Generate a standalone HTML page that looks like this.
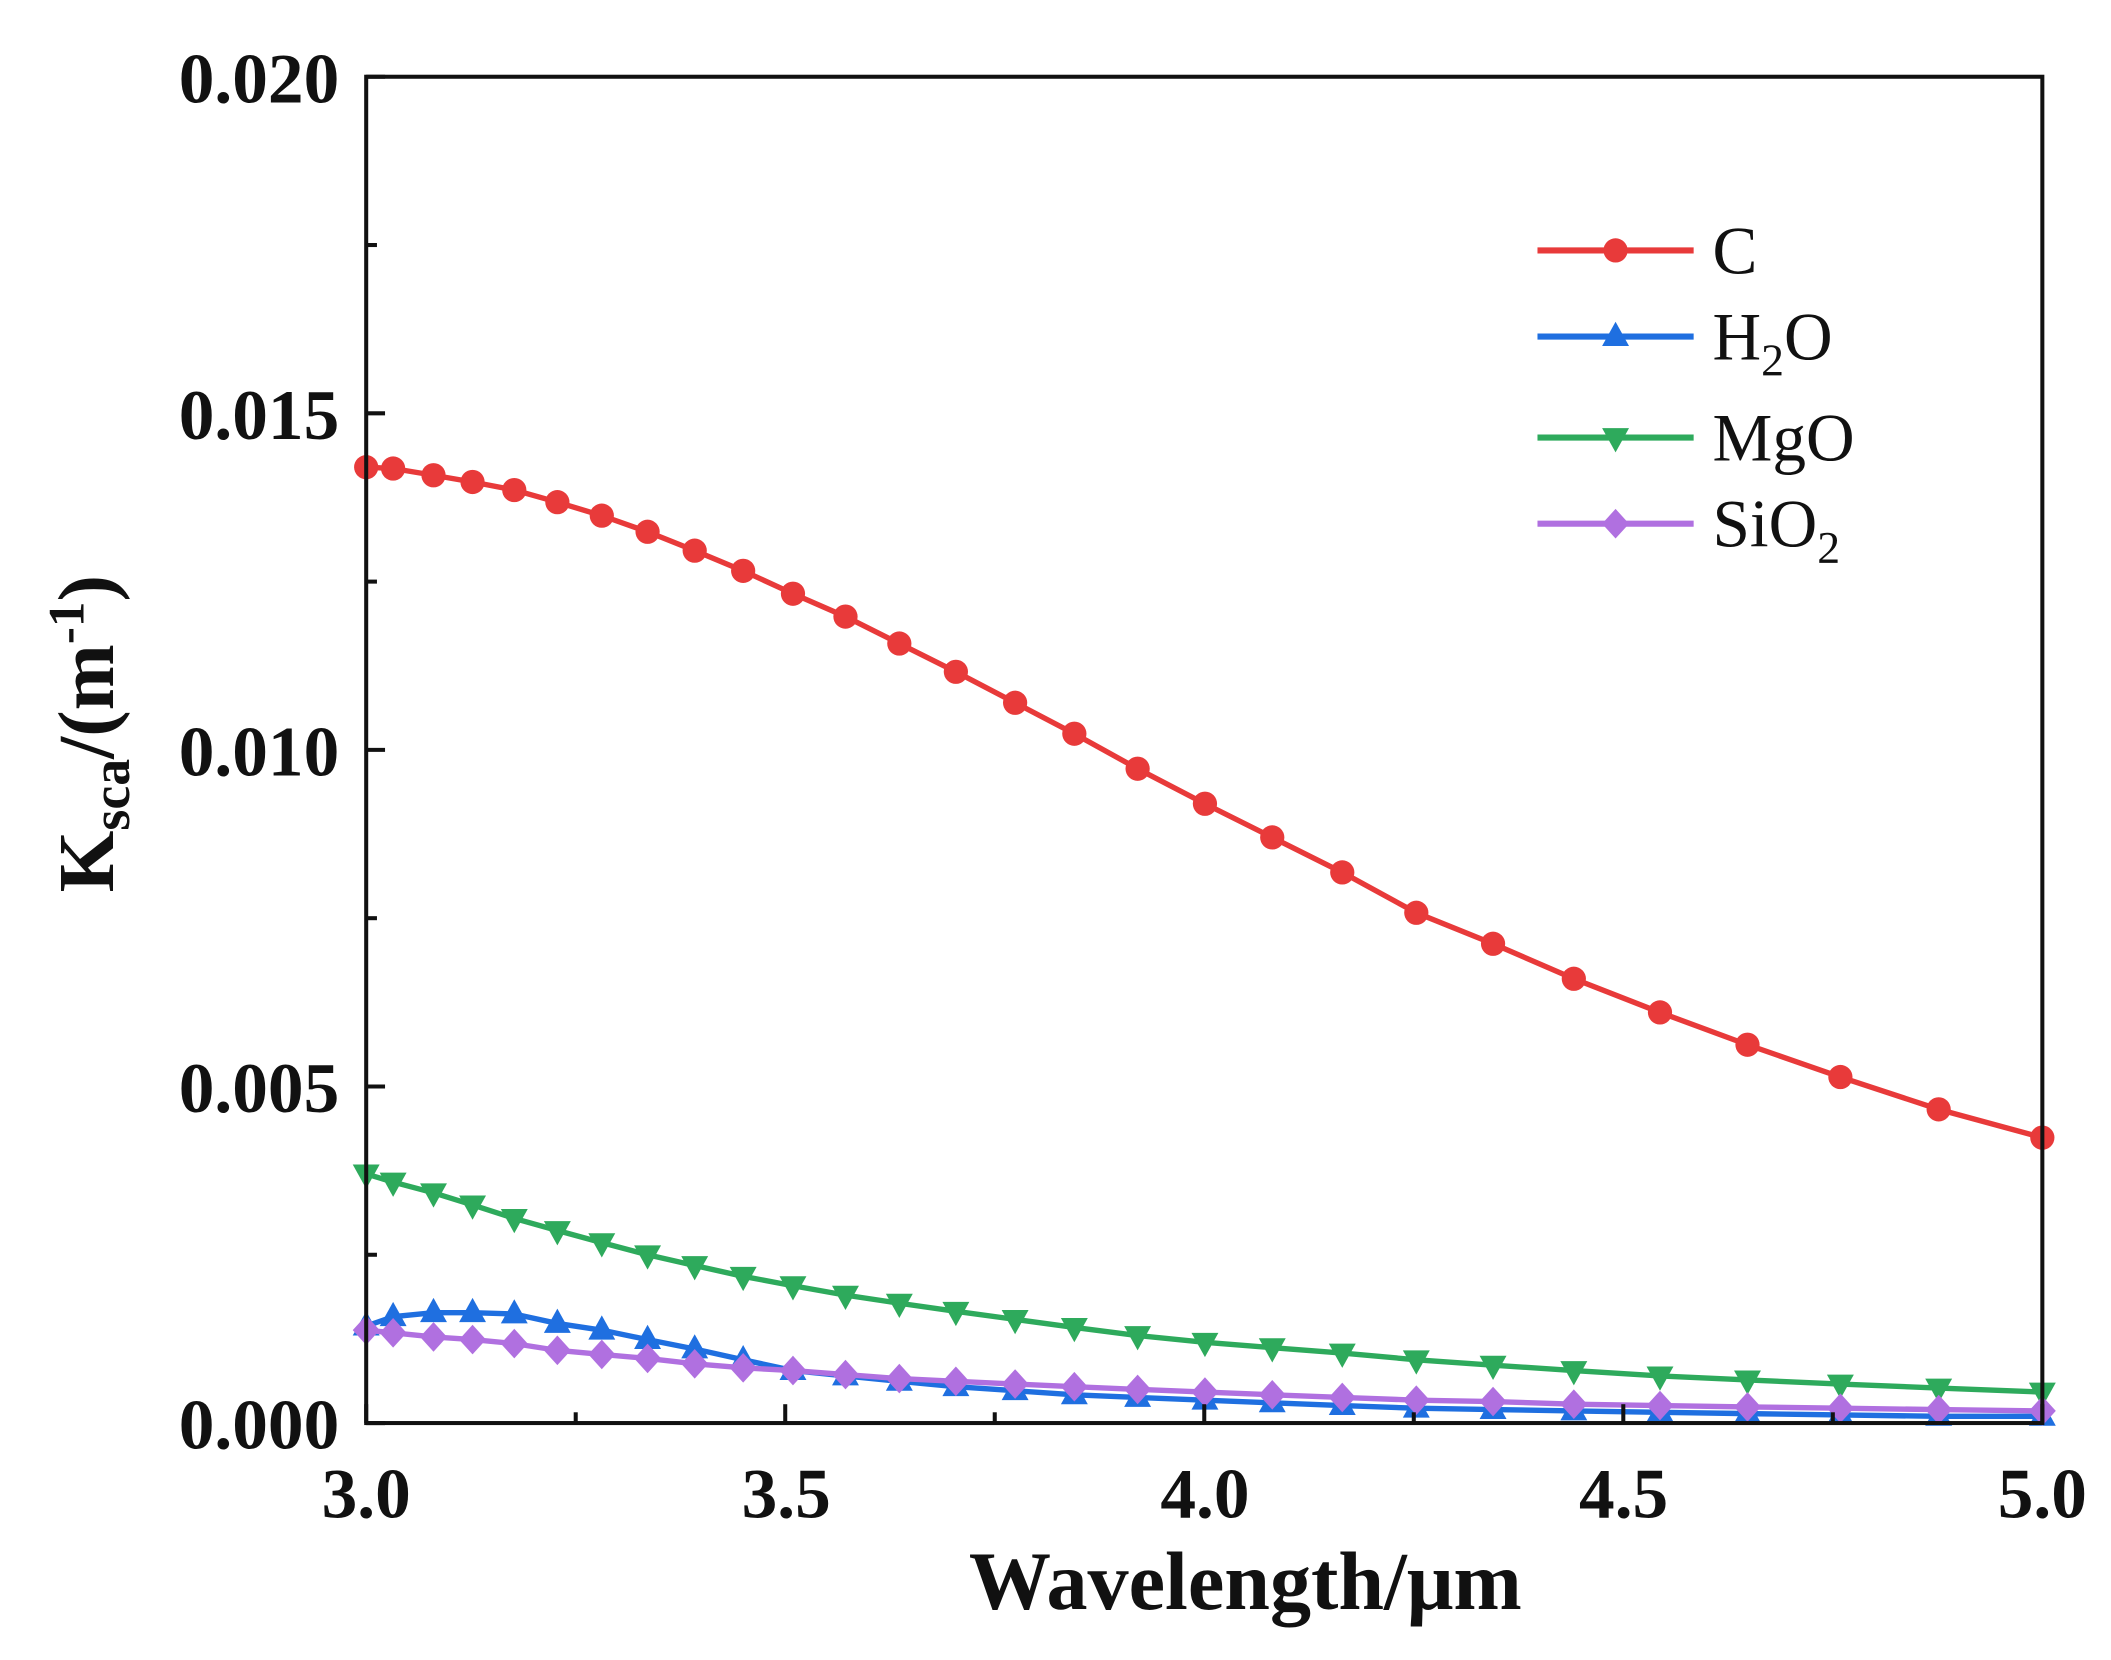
<!DOCTYPE html>
<html><head><meta charset="utf-8"><style>
html,body{margin:0;padding:0;background:#fff;}
svg{display:block;}
text{font-family:"Liberation Serif","DejaVu Serif",serif;}
</style></head><body>
<svg id="s" width="2111" height="1660" viewBox="0 0 1568 1233" preserveAspectRatio="none" xmlns="http://www.w3.org/2000/svg">
<rect width="1568" height="1233" fill="#fff"/>
<g id="plot"></g>
<rect x="272" y="57" width="1245" height="1000" fill="none" stroke="#111" stroke-width="3"/>
<g id="ticks" stroke="#111" stroke-width="3"></g>
<g font-weight="bold" font-size="53" fill="#111" text-anchor="end">
<text x="252" y="76">0.020</text>
<text x="252" y="326">0.015</text>
<text x="252" y="576">0.010</text>
<text x="252" y="826">0.005</text>
<text x="252" y="1076">0.000</text>
</g>
<g font-weight="bold" font-size="53" fill="#111" text-anchor="middle">
<text x="272" y="1127">3.0</text>
<text x="584" y="1127">3.5</text>
<text x="895" y="1127">4.0</text>
<text x="1206" y="1127">4.5</text>
<text x="1517" y="1127">5.0</text>
</g>
<text x="925" y="1195" font-weight="bold" font-size="61" text-anchor="middle" fill="#111">Wavelength/μm</text>
<text transform="translate(84,545) rotate(-90)" font-weight="bold" font-size="59" text-anchor="middle" fill="#111">K<tspan font-size="40" dy="12">sca</tspan><tspan dy="-12">/(m</tspan><tspan font-size="38" dy="-22">-1</tspan><tspan dy="22">)</tspan></text>
<g id="legend" font-size="50" fill="#111">
<text x="1272" y="203">C</text>
<text x="1272" y="267">H<tspan font-size="34" dy="12">2</tspan><tspan dy="-12">O</tspan></text>
<text x="1272" y="342">MgO</text>
<text x="1272" y="406">SiO<tspan font-size="34" dy="12">2</tspan></text>
</g>
</svg>
<script>
var NS="http://www.w3.org/2000/svg";
var xs=[272,292,322,351,382,414,447,481,516,552,589,628,668,710,754,798,845,895,945,997,1052,1109,1169,1233,1298,1367,1440,1517];
var series=[
{c:"#e83a3a",m:"circle",y:[347,348,353,358,364,373,383,395,409,424,441,458,478,499,522,545,571,597,622,648,678,701,727,752,776,800,824,845],ly:186},
{c:"#1f6fe0",m:"up",y:[985,978,975,975,976,983,988,995,1002,1010,1018,1022,1026,1030,1033,1036,1038,1040,1042,1044,1046,1047,1048,1049,1050,1051,1052,1052],ly:250},
{c:"#2eaa5c",m:"down",y:[872,878,886,895,905,914,923,932,940,948,955,962,968,974,980,986,992,997,1001,1005,1010,1014,1018,1022,1025,1028,1031,1034],ly:325},
{c:"#b070e0",m:"diamond",y:[988,990,993,995,998,1003,1006,1009,1013,1016,1018,1021,1024,1026,1028,1030,1032,1034,1036,1038,1040,1041,1043,1044,1045,1046,1047,1048],ly:389}
];
function el(t,a,p){var e=document.createElementNS(NS,t);for(var k in a)e.setAttribute(k,a[k]);p.appendChild(e);return e;}
function marker(m,x,y,c,p){
 if(m=="circle")el("circle",{cx:x,cy:y,r:9,fill:c},p);
 else if(m=="up")el("polygon",{points:(x)+","+(y-11)+" "+(x-10)+","+(y+7)+" "+(x+10)+","+(y+7),fill:c},p);
 else if(m=="down")el("polygon",{points:(x)+","+(y+11)+" "+(x-10)+","+(y-7)+" "+(x+10)+","+(y-7),fill:c},p);
 else el("polygon",{points:x+","+(y-11)+" "+(x+10)+","+y+" "+x+","+(y+11)+" "+(x-10)+","+y,fill:c},p);
}
var plot=document.getElementById("plot");
var order=[2,1,3,0];
order.forEach(function(i){var s=series[i];
 var pts=xs.map(function(x,j){return x+","+s.y[j];}).join(" ");
 el("polyline",{points:pts,fill:"none",stroke:s.c,"stroke-width":4},plot);
 xs.forEach(function(x,j){marker(s.m,x,s.y[j],s.c,plot);});
});
var lg=document.getElementById("s");
series.forEach(function(s){
 el("line",{x1:1142,x2:1258,y1:s.ly,y2:s.ly,stroke:s.c,"stroke-width":4.5},lg);
 marker(s.m,1200,s.ly,s.c,lg);
});
var tk=document.getElementById("ticks");
for(var i=0;i<=8;i++){var x=272+i*155.625;var L=(i%2==0)?14:8;
 el("line",{x1:x,x2:x,y1:1057,y2:1057-L},tk);}
for(var i=0;i<=8;i++){var y=1057-i*125;var L=(i%2==0)?14:8;
 el("line",{x1:272,x2:272+L,y1:y,y2:y},tk);}
</script>
</body></html>
